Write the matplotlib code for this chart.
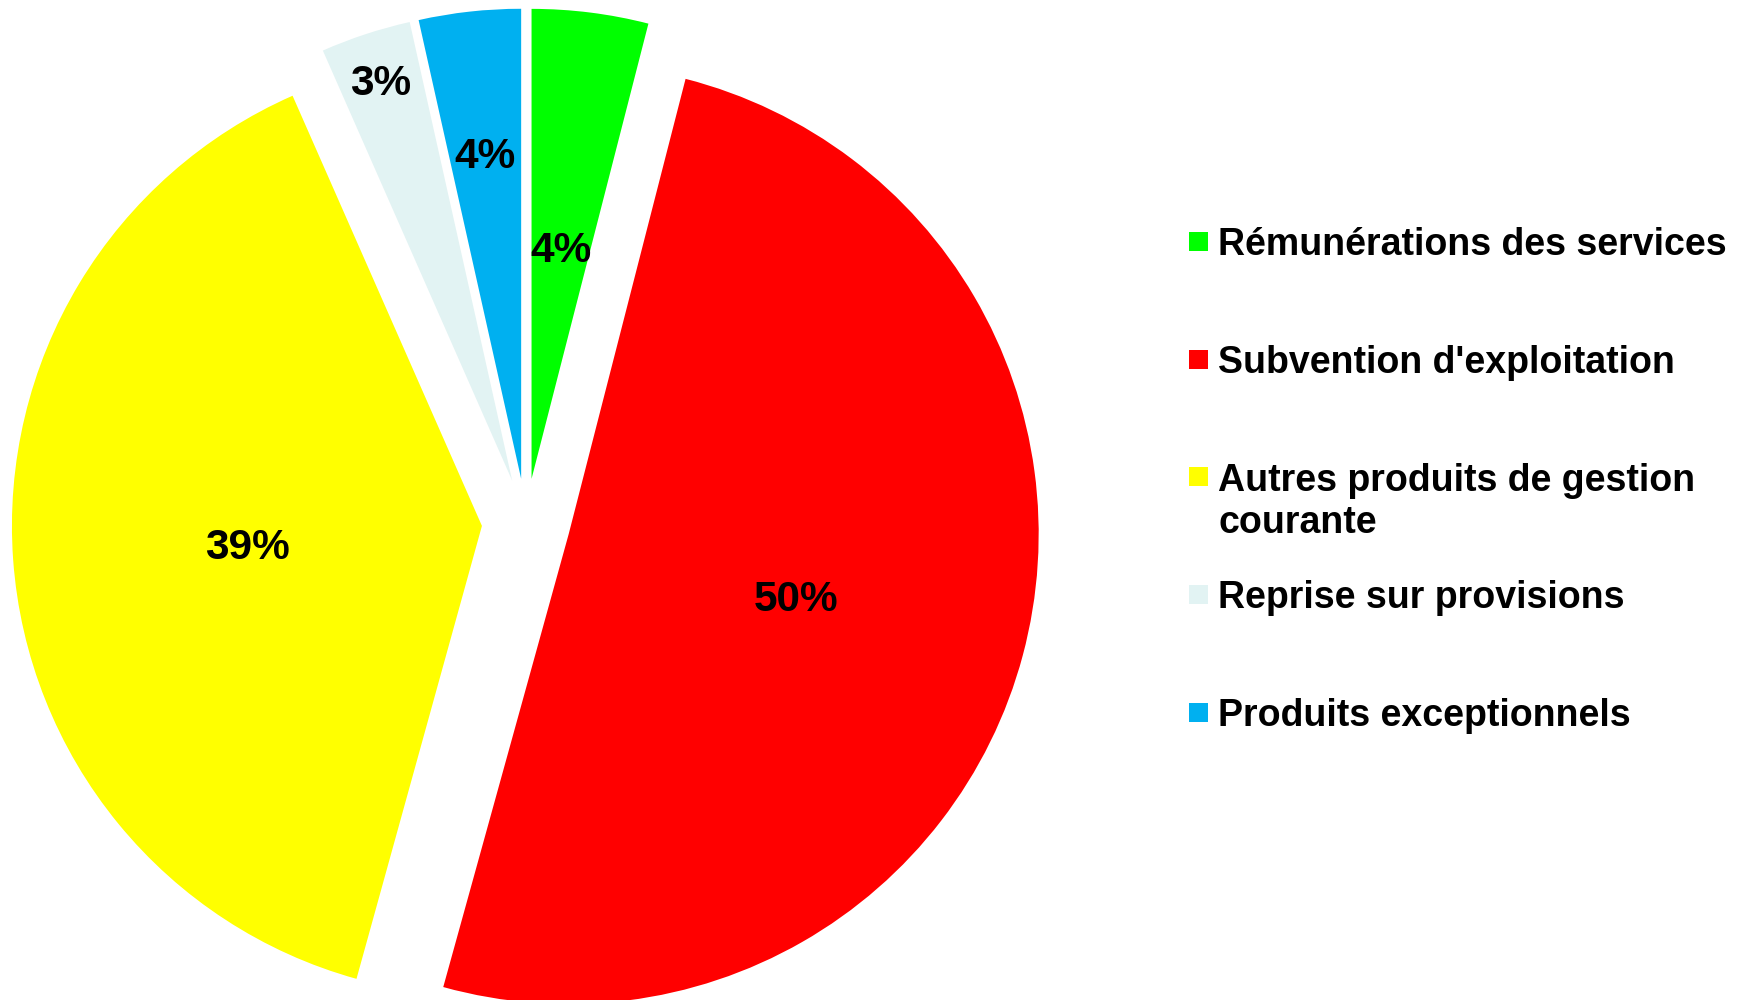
import matplotlib
matplotlib.use("Agg")
import matplotlib.pyplot as plt
from matplotlib.patches import Rectangle
import numpy as np

plt.rcParams['font.family'] = ['Liberation Sans', 'DejaVu Sans']

labels = ["Rémunérations des services",
          "Subvention d'exploitation",
          "Autres produits de gestion\ncourante",
          "Reprise sur provisions",
          "Produits exceptionnels"]
values = [4.0, 50.3, 39.1, 3.1, 3.5]
pct_labels = ["4%", "50%", "39%", "3%", "4%"]
colors = ["#00FF00", "#FF0000", "#FFFF00", "#E2F3F3", "#00B0F0"]
label_dist = [0.5, 0.5, 0.5, 0.9, 0.7]

W, H = 1746, 1000
fig = plt.figure(figsize=(W / 100, H / 100), dpi=100)
ax = fig.add_axes([0, 0, 1, 1])

cx_px, cy_px, R_px = 526, 522.7, 470
wedges, _ = ax.pie(values, colors=colors, startangle=90, counterclock=False,
                   explode=[0.094] * len(values), radius=1.0,
                   wedgeprops=dict(linewidth=0))

y_shift = -5.5 / R_px
for w, t, d in zip(wedges, pct_labels, label_dist):
    thm = np.deg2rad((w.theta1 + w.theta2) / 2)
    x = w.center[0] + d * w.r * np.cos(thm)
    y = w.center[1] + d * w.r * np.sin(thm) + y_shift
    ax.text(x, y, t, ha='center', va='center', fontsize=30.5,
            fontweight='bold', color='black')

ax.set_aspect('equal')
ax.set_xlim(-cx_px / R_px, (W - cx_px) / R_px)
ax.set_ylim(-(H - cy_px) / R_px, cy_px / R_px)
ax.axis('off')

# legend (drawn manually to match layout)
sq_x0, sq_size = 1189, 19
text_x = 1218
first_y, step = 241.6, 117.6
line_gap = 43
for i, (lab, col) in enumerate(zip(labels, colors)):
    yc = first_y + i * step
    fig.add_artist(Rectangle(((sq_x0) / W, 1 - (yc + sq_size / 2) / H),
                             sq_size / W, sq_size / H,
                             transform=fig.transFigure, facecolor=col,
                             edgecolor='none'))
    nlines = lab.count("\n") + 1
    ytext = yc + 3.5 + (nlines - 1) * line_gap / 2
    fig.text(text_x / W, 1 - ytext / H, lab, ha='left', va='center',
             fontsize=27, fontweight='bold', color='black',
             linespacing=1.2)

fig.savefig("out.png", dpi=100, facecolor='white')
